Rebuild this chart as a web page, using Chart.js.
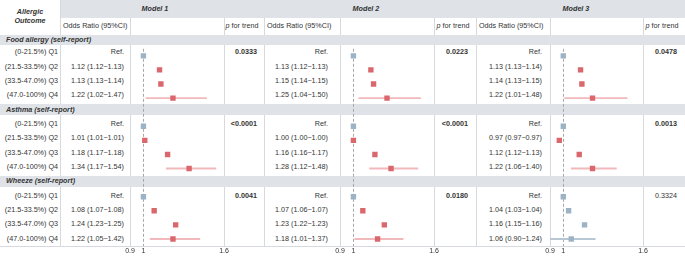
<!DOCTYPE html>
<html>
<head>
<meta charset="utf-8">
<script src="https://cdn.jsdelivr.net/npm/chart.js@4.4.1/dist/chart.umd.min.js"></script>
<style>
html, body { margin: 0; padding: 0; background: #fff; }
#wrap { position: relative; width: 685px; height: 256px; overflow: hidden;
        font-family: "Liberation Sans", Arial, sans-serif; font-size: 7.2px; color: #333; }
#wrap div { position: absolute; white-space: nowrap; }
.band { background: #dfe3e8; }
.vline { width: 1px; background: #d6dadf; }
.t { line-height: 10px; height: 10px; }
.b { font-weight: bold; }
.bi { font-weight: bold; font-style: italic; }
canvas { position: absolute; }
</style>
</head>
<body>
<div id="wrap"></div>
<script>
// ---- data ----
const outcomes = ['Food allergy (self-report)', 'Asthma (self-report)', 'Wheeze (self-report)'];
const quartiles = ['(0-21.5%) Q1', '(21.5-33.5%) Q2', '(33.5-47.0%) Q3', '(47.0-100%) Q4'];
const models = ['Model 1', 'Model 2', 'Model 3'];
const axisTicks = [0.9, 1, 1.6];

// odds ratios per outcome, Q1 is the reference
const m1Or = [[1, 1.12, 1.13, 1.22], [1, 1.01, 1.18, 1.34], [1, 1.08, 1.24, 1.22]];
const m1Lo = [[null, 1.12, 1.13, 1.02], [null, 1.01, 1.17, 1.17], [null, 1.07, 1.23, 1.05]];
const m1Hi = [[null, 1.13, 1.14, 1.47], [null, 1.01, 1.18, 1.54], [null, 1.08, 1.25, 1.42]];
const m1P = ['0.0333', '<0.0001', '0.0041'];

const m2Or = [[1, 1.13, 1.15, 1.25], [1, 1.00, 1.16, 1.28], [1, 1.07, 1.23, 1.18]];
const m2Lo = [[null, 1.12, 1.14, 1.04], [null, 1.00, 1.16, 1.12], [null, 1.06, 1.22, 1.01]];
const m2Hi = [[null, 1.13, 1.15, 1.50], [null, 1.00, 1.17, 1.48], [null, 1.07, 1.23, 1.37]];
const m2P = ['0.0223', '<0.0001', '0.0180'];

const m3Or = [[1, 1.13, 1.14, 1.22], [1, 0.97, 1.12, 1.22], [1, 1.04, 1.16, 1.06]];
const m3Lo = [[null, 1.13, 1.13, 1.01], [null, 0.97, 1.12, 1.06], [null, 1.03, 1.15, 0.90]];
const m3Hi = [[null, 1.14, 1.15, 1.48], [null, 0.97, 1.13, 1.40], [null, 1.04, 1.16, 1.24]];
const m3P = ['0.0478', '0.0013', '0.3324'];

const orData = [m1Or, m2Or, m3Or];
const loData = [m1Lo, m2Lo, m3Lo];
const hiData = [m1Hi, m2Hi, m3Hi];
const pData = [m1P, m2P, m3P];

// ---- layout ----
const W = 685;
const cols = [0, 60, 130, 224, 264, 340, 434, 476, 550, 643, 685];
const orRight = [124, 328, 542];
const pRight = [257, 468, 677];
const titleX = [155, 366, 576];
const TOP = 45, BOTTOM = 246;

const RED = '#d9676c', BLUE = '#9cb3c5';
const CI_RED = '#f1b9bc', CI_BLUE = '#b7c7d3';

// rows drawn inside the plot area (the food allergy band sits above it)
const rows = [];
outcomes.forEach((o, s) => {
  if (s > 0) rows.push({ type: 'band', s: s, key: 'band' + s });
  quartiles.forEach((q, k) => rows.push({ type: 'row', s: s, k: k, key: s + ':' + k }));
});
const rowH = (BOTTOM - TOP) / rows.length;
const rowY = i => TOP + (i + 0.5) * rowH;

const isSig = p => p.startsWith('<') || parseFloat(p) < 0.05;
const fmt = v => v.toFixed(2);

const wrap = document.getElementById('wrap');
function add(cls, style, html) {
  const d = document.createElement('div');
  d.className = cls;
  Object.assign(d.style, style);
  if (html != null) d.innerHTML = html;
  wrap.appendChild(d);
  return d;
}
const px = v => v + 'px';

// vertical grid lines
cols.slice(1, -1).forEach(x => {
  const top = (x === 60 || x === 264 || x === 476) ? 0 : 18;
  add('vline', { left: px(x), top: px(top), height: px(BOTTOM - top) });
});
add('', { left: '0px', top: px(BOTTOM), width: px(W), height: '1px', background: '#d6dadf' });

// header
add('band', { left: '61px', top: '0px', width: px(W - 61), height: '18px' });
add('bi', { left: '0px', top: '8px', width: '60px', textAlign: 'center', lineHeight: '8.5px' }, 'Allergic<br>Outcome');
models.forEach((m, i) => {
  add('t bi', { left: px(titleX[i] - 30), width: '60px', top: '4px', textAlign: 'center' }, m);
  add('t', { left: px(cols[1 + 3 * i] + 3), top: '21px' }, 'Odds Ratio (95%CI)');
  const pc = (cols[3 + 3 * i] + cols[4 + 3 * i]) / 2 - 2;
  add('t', { left: px(pc - 25), width: '50px', top: '21px', textAlign: 'center' }, '<i>p</i> for trend');
});

// section bands
add('band', { left: '0px', top: '35px', width: px(W), height: '10px' });
add('t bi', { left: '6px', top: '35px' }, outcomes[0]);
rows.forEach((r, i) => {
  const cy = rowY(i);
  if (r.type === 'band') {
    add('band', { left: '0px', top: px(cy - 5.5), width: px(W), height: '11px' });
    add('t bi', { left: '6px', top: px(cy - 5) }, outcomes[r.s]);
    return;
  }
  add('t', { right: px(W - 58), top: px(cy - 5) }, quartiles[r.k]);
  models.forEach((m, mi) => {
    const lo = loData[mi][r.s][r.k];
    const txt = lo == null ? 'Ref.' :
      fmt(orData[mi][r.s][r.k]) + ' (' + fmt(lo) + '\u2212' + fmt(hiData[mi][r.s][r.k]) + ')';
    add('t', { right: px(W - orRight[mi]), top: px(cy - 5) }, txt);
    if (r.k === 0) {
      const p = pData[mi][r.s];
      add('t' + (isSig(p) ? ' b' : ''), { right: px(W - pRight[mi]), top: px(cy - 5) }, p);
    }
  });
});

// ---- forest plots ----
const refLine = {
  id: 'refLine',
  beforeDatasetsDraw(chart) {
    const { ctx, chartArea, scales } = chart;
    const x = Math.round(scales.x.getPixelForValue(1)) + 0.5;
    ctx.save();
    ctx.strokeStyle = '#a8a8a8';
    ctx.lineWidth = 1;
    ctx.setLineDash([3, 2]);
    ctx.beginPath();
    ctx.moveTo(x, chartArea.top);
    ctx.lineTo(x, chartArea.bottom);
    ctx.stroke();
    ctx.restore();
  }
};

function makeChart(mi) {
  const plotL = cols[2 + 3 * mi], plotR = cols[3 + 3 * mi];
  const cv = document.createElement('canvas');
  cv.width = plotR - plotL + 20;
  cv.height = 256 - TOP;
  cv.style.left = px(plotL - 10);
  cv.style.top = px(TOP);
  wrap.appendChild(cv);

  const red = r => r.k > 0 && isSig(pData[mi][r.s]);
  const labels = rows.map(r => r.key);
  const ci = rows.map(r => (r.type === 'row' && loData[mi][r.s][r.k] != null)
    ? [loData[mi][r.s][r.k], hiData[mi][r.s][r.k]] : null);
  const ciCol = rows.map(r => (r.type === 'row' && red(r)) ? CI_RED : CI_BLUE);
  const dataRows = rows.filter(r => r.type === 'row');
  const pts = dataRows.map(r => ({ x: orData[mi][r.s][r.k], y: r.key }));
  const ptCol = dataRows.map(r => red(r) ? RED : BLUE);

  new Chart(cv, {
    type: 'bar',
    data: {
      labels: labels,
      datasets: [
        { type: 'bar', data: ci, backgroundColor: ciCol, barThickness: 1.2, borderWidth: 0, order: 2 },
        { type: 'scatter', data: pts, pointStyle: 'rect', pointRadius: 3.8, pointHoverRadius: 3.8,
          backgroundColor: ptCol, borderWidth: 0, order: 1 }
      ]
    },
    options: {
      indexAxis: 'y',
      responsive: false,
      animation: false,
      devicePixelRatio: 1,
      layout: { padding: { left: 10, right: 10, top: 0, bottom: 0 } },
      plugins: { legend: { display: false }, tooltip: { enabled: false } },
      scales: {
        y: { type: 'category', display: false, offset: true },
        x: {
          type: 'linear', min: 0.9, max: 1.6,
          grid: { display: false, drawTicks: false }, border: { display: false },
          ticks: { autoSkip: false, maxRotation: 0, padding: 1, color: '#333',
                   font: { size: 7, family: '"Liberation Sans", Arial, sans-serif' },
                   callback: v => String(v) },
          afterBuildTicks: a => { a.ticks = axisTicks.map(v => ({ value: v })); },
          afterFit: a => { a.height = 10; a.paddingLeft = 0; a.paddingRight = 0; }
        }
      }
    },
    plugins: [refLine]
  });
}
models.forEach((m, i) => makeChart(i));
</script>
</body>
</html>
